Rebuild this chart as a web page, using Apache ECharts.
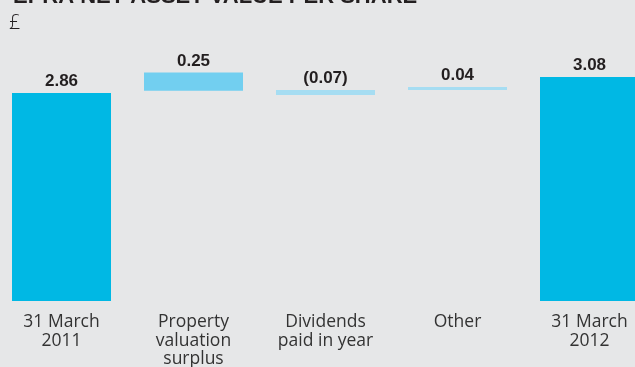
<!DOCTYPE html>
<html>
<head>
<meta charset="utf-8">
<script src="https://cdn.jsdelivr.net/npm/echarts@6/dist/echarts.min.js"></script>
<style>
  html, body { margin: 0; padding: 0; background: #e6e7e8; }
  #chart { width: 635px; height: 367px; }
</style>
</head>
<body>
<div id="chart"></div>
<script>
// EPRA NAV per share bridge, 2011 -> 2012
const categories = ['31 March\n2011', 'Property\nvaluation\nsurplus', 'Dividends\npaid in year', 'Other', '31 March\n2012']
// floating bars: invisible offset + visible height (as drawn in the picture)
const offsets = [0, 2.89, 2.83, 2.90, 0]
const heights = [2.86, 0.25, 0.07, 0.04, 3.08]
const valueLabels = ['2.86', '0.25', '(0.07)', '0.04', '3.08']
const barColors = ['#00b8e4', '#72cff0', '#a6ddf2', '#a6ddf2', '#00b8e4']

const chart = echarts.init(document.getElementById('chart'))

const option = {
  backgroundColor: '#e6e7e8',
  animation: false,
  title: {
    text: 'EPRA NET ASSET VALUE PER SHARE',
    left: 8,
    top: -19,
    textStyle: {
      fontFamily: 'Liberation Sans',
      fontWeight: 'bold',
      fontSize: 22,
      color: '#231f20'
    }
  },
  graphic: [
    {
      type: 'text',
      left: 9,
      top: 13,
      style: {
        text: '£',
        font: 'lighter 20px "Open Sans"',
        fill: '#231f20'
      }
    }
  ],
  grid: {
    left: -4.5,
    width: 660,
    top: 10,
    bottom: 66,
    containLabel: false,
    outerBoundsMode: 'none'
  },
  xAxis: {
    type: 'category',
    data: categories,
    axisLine: { show: false },
    axisTick: { show: false },
    axisLabel: {
      margin: 12,
      interval: 0,
      fontFamily: 'Open Sans',
      fontSize: 17.5,
      lineHeight: 18.5,
      color: '#333333'
    }
  },
  yAxis: {
    type: 'value',
    min: 0,
    max: 4,
    show: false,
    splitLine: { show: false }
  },
  series: [
    {
      name: 'offset',
      type: 'bar',
      stack: 'w',
      barWidth: 99,
      itemStyle: { color: 'transparent' },
      silent: true,
      data: offsets
    },
    {
      name: 'change',
      type: 'bar',
      stack: 'w',
      barWidth: 99,
      label: {
        show: true,
        position: 'top',
        distance: 3,
        fontFamily: 'Liberation Sans',
        fontWeight: 'bold',
        fontSize: 17,
        color: '#231f20',
        formatter: p => valueLabels[p.dataIndex]
      },
      data: heights.map((v, i) => ({
        value: v,
        itemStyle: { color: barColors[i] }
      }))
    }
  ]
}

chart.setOption(option)
</script>
</body>
</html>
